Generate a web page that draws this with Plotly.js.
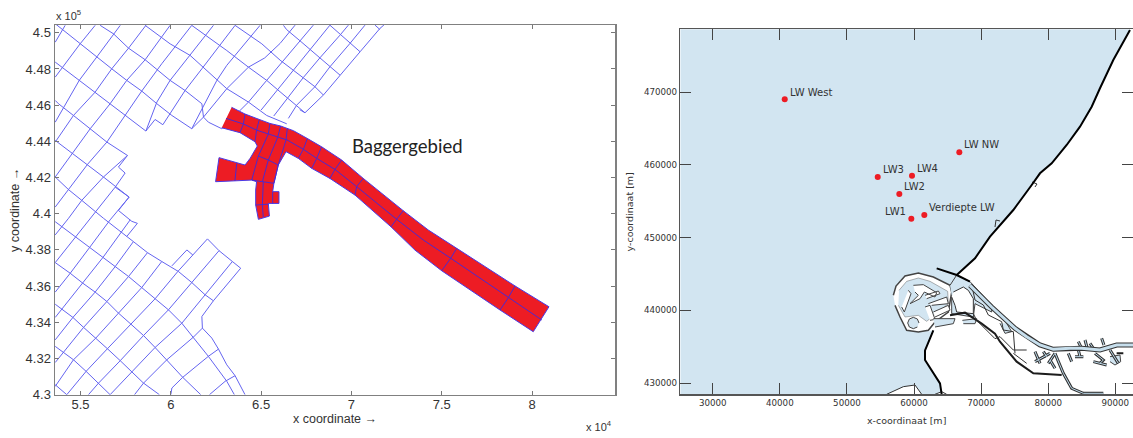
<!DOCTYPE html>
<html><head><meta charset="utf-8">
<script src="https://cdn.plot.ly/plotly-3.0.1.min.js"></script>
<style>html,body{margin:0;padding:0;background:#fff}#c{width:1133px;height:438px}</style>
</head><body><div id="c"></div>
<script>
// ---------- left panel: model grid (x in 1e4, y in 1e5) ----------
const gridNorth = [
 [[5.36,4.505],[5.498,4.4939],[5.59,4.4866],[5.673,4.4801],[5.756,4.4737],[5.839,4.4678],[5.923,4.4608],[6.006,4.4543],[6.116,4.447]],
 [[5.36,4.4838],[5.493,4.4737],[5.581,4.4672],[5.664,4.4608],[5.747,4.4543],[5.862,4.4457]],
 [[5.36,4.4626],[5.378,4.4608],[5.461,4.4543],[5.554,4.447],[5.646,4.4396],[5.76,4.4322]],
 [[5.36,4.4405],[5.452,4.4335],[5.539,4.4273],[5.627,4.4203],[5.769,4.4092]],
 [[5.36,4.4203],[5.434,4.4133],[5.507,4.4074],[5.627,4.3975],[5.793,4.3846],[5.871,4.3785],[5.95,4.3736],[6.042,4.3681],[6.116,4.362],[6.19,4.3552],[6.236,4.3519]],
 [[5.609,4.5041],[5.683,4.4994],[5.766,4.4915],[5.858,4.4851],[5.996,4.4737],[6.079,4.4681],[6.172,4.4608],[6.181,4.4534]],
 [[5.858,4.5041],[5.996,4.4939],[6.107,4.4875],[6.255,4.4737],[6.31,4.4691],[6.43,4.4617],[6.531,4.4543],[6.642,4.4497]],
 [[6.116,4.5041],[6.199,4.4982],[6.31,4.4902],[6.43,4.481],[6.531,4.4737],[6.605,4.4674],[6.651,4.4637],[6.697,4.46],[6.743,4.4558]],
 [[6.356,4.5041],[6.504,4.4939],[6.605,4.4849],[6.678,4.4794],[6.734,4.4753],[6.798,4.4702],[6.845,4.4656]],
 [[6.624,4.5041],[6.641,4.5018],[6.715,4.4956],[6.771,4.4908],[6.826,4.4862],[6.881,4.4812],[6.937,4.4766]],
 [[6.881,4.5042],[6.992,4.4941],[7.048,4.4895]],
 [[7.131,4.5042],[7.158,4.5018]],
 [[5.36,4.4948],[5.415,4.5041]],
 [[5.36,4.4755],[5.498,4.4939],[5.581,4.5041]],
 [[5.36,4.4506],[5.493,4.4737],[5.59,4.4866],[5.683,4.4994],[5.72,4.5041]],
 [[5.36,4.4396],[5.461,4.4543],[5.581,4.4672],[5.673,4.4801],[5.766,4.4915],[5.862,4.5041]],
 [[5.36,4.4203],[5.554,4.447],[5.664,4.4608],[5.756,4.4737],[5.858,4.4851],[5.996,4.5041]],
 [[5.36,4.4037],[5.539,4.4273],[5.646,4.4396],[5.747,4.4543],[5.839,4.4678],[5.95,4.4829],[6.116,4.5041]],
 [[5.434,4.3975],[5.507,4.4074],[5.627,4.4203],[5.76,4.4322]],
 [[5.862,4.4457],[5.923,4.4617],[5.996,4.4737],[6.107,4.4875],[6.236,4.5041]],
 [[5.956,4.4492],[6.079,4.4681],[6.172,4.4801],[6.356,4.5041]],
 [[6.116,4.447],[6.255,4.4737],[6.31,4.482],[6.494,4.5041]],
 [[6.181,4.4534],[6.31,4.4691],[6.43,4.481],[6.52,4.4861],[6.605,4.4941],[6.688,4.5042]],
 [[6.282,4.447],[6.43,4.4617],[6.531,4.4737],[6.619,4.484],[6.715,4.4956],[6.789,4.5042]],
 [[6.5,4.4573],[6.605,4.4702],[6.678,4.4794],[6.771,4.4908],[6.881,4.5042]],
 [[6.57,4.454],[6.605,4.4587],[6.645,4.4637],[6.734,4.4753],[6.826,4.4862],[6.937,4.4987],[6.983,4.5042]],
 [[6.651,4.4527],[6.697,4.46],[6.798,4.4702],[6.881,4.4812],[6.992,4.4941],[7.075,4.5042]],
 [[7.18,4.5043],[7.158,4.5024],[7.048,4.4895],[6.937,4.4766],[6.845,4.4656],[6.743,4.4558],[6.714,4.4575]],
 [[5.76,4.4322],[5.71,4.4258],[5.747,4.4225],[5.692,4.4147],[5.769,4.4092],[5.71,4.4018],[5.784,4.3958],[5.815,4.3947],[5.756,4.3874]],
 [[5.862,4.4457],[5.913,4.4521],[5.956,4.4492]],
 [[6.116,4.447],[6.181,4.4534],[6.208,4.4506],[6.282,4.447]]
];
const gridSouth = [
 [[5.36,4.3956],[5.55,4.3813],[5.624,4.3758],[5.692,4.3708],[5.766,4.3653],[5.839,4.3592],[5.913,4.353],[5.987,4.3469],[6.061,4.3395],[6.125,4.3318],[6.208,4.3212],[6.31,4.3074],[6.352,4.3]],
 [[5.36,4.373],[5.443,4.3671],[5.513,4.3616],[5.581,4.3567],[5.646,4.3515],[5.71,4.3451],[5.779,4.339],[5.849,4.3327],[5.913,4.3261],[5.978,4.3193],[6.066,4.3096],[6.166,4.3]],
 [[5.36,4.35],[5.458,4.3427],[5.517,4.3372],[5.585,4.3313],[5.649,4.3254],[5.72,4.3188],[5.784,4.3125],[5.849,4.3064],[5.937,4.3]],
 [[5.36,4.3267],[5.461,4.3193],[5.531,4.3129],[5.6,4.3064],[5.664,4.3]],
 [[5.36,4.3055],[5.424,4.3]],
 [[5.36,4.3883],[5.434,4.3975]],
 [[5.36,4.373],[5.554,4.3975],[5.692,4.4147]],
 [[5.36,4.3567],[5.443,4.3671],[5.55,4.3813],[5.664,4.3966],[5.769,4.4092]],
 [[5.36,4.3427],[5.513,4.3616],[5.624,4.3758],[5.775,4.3966]],
 [[5.36,4.3303],[5.458,4.3427],[5.581,4.3567],[5.692,4.3708],[5.793,4.3846]],
 [[5.36,4.3178],[5.517,4.3372],[5.646,4.3515],[5.766,4.3653],[5.871,4.3785]],
 [[5.36,4.3046],[5.461,4.3193],[5.585,4.3313],[5.71,4.3451],[5.839,4.3592],[5.95,4.3736]],
 [[5.424,4.3],[5.531,4.3129],[5.649,4.3254],[5.779,4.339],[5.913,4.353],[6.039,4.3681],[6.122,4.3772],[6.203,4.3861]],
 [[5.544,4.3],[5.6,4.3064],[5.72,4.3188],[5.849,4.3327],[5.987,4.3469],[6.116,4.362],[6.267,4.3796]],
 [[5.664,4.3],[5.784,4.3125],[5.913,4.3261],[6.061,4.3395],[6.19,4.3552],[6.341,4.3736]],
 [[5.799,4.3],[5.849,4.3064],[5.978,4.3193],[6.125,4.3318],[6.175,4.3368]],
 [[6.0,4.3],[6.006,4.3037],[6.066,4.3096],[6.208,4.3212],[6.264,4.3252]],
 [[6.214,4.3],[6.301,4.3074],[6.356,4.3105]],
 [[6.006,4.3712],[6.089,4.38],[6.122,4.3772]],
 [[6.203,4.3861],[6.267,4.3796],[6.341,4.3736],[6.387,4.3699],[6.236,4.3519],[6.172,4.3432],[6.175,4.3368],[6.227,4.3313],[6.264,4.3252],[6.31,4.3165],[6.356,4.3105],[6.384,4.3055],[6.411,4.3]]
];
const dredgeOutline = [[6.337,4.4588],[6.411,4.4551],[6.49,4.4521],[6.549,4.4499],[6.608,4.4485],[6.679,4.4459],[6.756,4.4416],[6.835,4.437],[6.946,4.4297],[7.066,4.4195],[7.287,4.4017],[7.426,4.391],[7.583,4.3809],[7.906,4.3601],[8.094,4.3486],
 [8.007,4.3348],[7.823,4.3468],[7.5,4.3685],[7.352,4.3799],[7.219,4.3928],[7.02,4.4103],[6.881,4.4195],[6.78,4.4251],[6.706,4.4306],[6.638,4.4343],[6.595,4.4269],[6.571,4.4168],[6.564,4.4122],[6.599,4.4122],[6.599,4.4057],[6.54,4.4057],[6.546,4.3987],[6.485,4.3969],[6.47,4.4048],[6.47,4.4131],[6.475,4.4177],[6.448,4.4186],[6.355,4.4181],[6.248,4.4177],[6.267,4.431],[6.411,4.4269],[6.439,4.4306],[6.479,4.4374],[6.466,4.4398],[6.383,4.4448],[6.282,4.4475]];
const dredgeCells = [
 [[6.306,4.4527],[6.402,4.4496],[6.475,4.4462],[6.54,4.444],[6.595,4.4422],[6.645,4.4407],[6.734,4.4356],[6.808,4.4306],[6.909,4.4245],[7.029,4.415],[7.251,4.3969],[7.398,4.3855],[7.55,4.3754],[7.869,4.3536],[8.054,4.3413]],
 [[6.411,4.4551],[6.402,4.4496],[6.383,4.4448]],
 [[6.49,4.4521],[6.475,4.4462],[6.466,4.4398]],
 [[6.549,4.4499],[6.54,4.444],[6.485,4.4319],[6.448,4.4186]],
 [[6.608,4.4485],[6.592,4.4422],[6.54,4.4297],[6.507,4.4177]],
 [[6.645,4.4472],[6.638,4.4407],[6.595,4.4269],[6.571,4.4168]],
 [[6.485,4.4319],[6.54,4.4297],[6.595,4.4269]],
 [[6.756,4.4416],[6.734,4.4356],[6.706,4.4306]],
 [[6.835,4.437],[6.808,4.4306],[6.78,4.4251]],
 [[6.946,4.4297],[6.909,4.4245],[6.881,4.4195]],
 [[7.066,4.4195],[7.029,4.415],[7.02,4.4103]],
 [[7.287,4.4017],[7.251,4.3969],[7.219,4.3928]],
 [[7.583,4.3809],[7.55,4.3754],[7.5,4.3685]],
 [[7.906,4.3601],[7.869,4.3536],[7.823,4.3468]],
 [[6.365,4.4278],[6.355,4.4181]],
 [[6.448,4.4186],[6.507,4.4177],[6.571,4.4168]],
 [[6.512,4.4177],[6.507,4.4048],[6.512,4.398]],
 [[6.564,4.4122],[6.564,4.4057]],
 [[6.47,4.4048],[6.54,4.4053]]
];
const xTicksLeft = [5.5,6,6.5,7,7.5,8];
const yTicksLeft = [4.3,4.32,4.34,4.36,4.38,4.4,4.42,4.44,4.46,4.48,4.5];

// ---------- right panel: map in metres ----------
const seaArea = [[25165,478619],[92190,478619],[90998,476461],[89702,474400],[87719,470510],[86483,467980],[84739,465231],[82757,462715],[80521,460200],[78778,458825],[77541,457217],[74798,453781],[71326,450110],[69091,447141],[66363,444846],[65366,443426],[65117,439760],[63130,438385],[62136,437011],[62882,437240],[61640,434491],[61640,433161],[63875,429954],[64124,428447],[25165,428447]];
const coastNorth = [[92190,478523],[90998,476461],[89702,474400],[87719,470510],[86483,467980],[84739,465231],[82757,462715],[80521,460200],[78778,458825],[77541,457217],[74798,453781],[71326,450110],[69091,447141],[66363,444846]];
const coastSouth = [[62882,437240],[61640,434491],[61640,433161],[63875,429954],[64124,428447]];
const breakwater = [[63378,445762],[66363,444846],[68346,443929]];
const portRing = [[56920,442051],[57317,443334],[58659,444709],[60646,445121],[62882,444571],[65366,443426],[65614,442509],[65366,440906],[65117,439760],[63130,438385],[62136,437240],[60646,437011],[58907,437240],[57914,439072],[57168,440677]];
const portBasins = [
 [[57765,442738],[58907,443975],[60646,444434],[62385,443975],[65018,442601],[65117,440906],[61888,438477],[60646,439302],[58659,439072],[57665,440677]]
];
const portPiers = [
 [[59901,443426],[61391,443517],[63378,442418],[63130,441822],[61540,442509],[60894,441593],[59404,440906],[60646,442051],[60149,442509]],
 [[59156,442738],[59553,442280],[58559,439760],[58162,440447]],
 [[61640,442051],[63627,442647],[63875,442280],[61888,441593]],
 [[62136,440906],[64869,441822],[65117,440906],[62633,440677]],
 [[61640,440447],[62385,440677],[63130,438752],[62385,438615]],
 [[62882,439760],[65117,440677],[65366,440015],[63130,439072]]
];
const otherBasins = [
 [[60746,438248],[60498,438799],[59901,439027],[59304,438799],[59056,438248],[59304,437697],[59901,437469],[60498,437697]],
 [[62882,438843],[66111,438843],[65862,438156],[63130,437698]],
 [[67206,438615],[69340,438843],[69092,438156],[67353,438156]],
 [[65366,443426],[66359,444846],[68346,443929],[71576,440677],[71576,439760],[69092,440906],[68843,439072],[65614,439530],[65614,442051]],
 [[72816,438202],[73561,436827],[74555,437056],[73810,438202]],
 [[89210,433620],[90701,433849],[90800,432933],[89956,432474],[89210,432933]]
];
const landIslands = [
 [[65862,442509],[67353,443197],[68098,442738],[68843,441593],[68843,439531],[66359,439760],[66111,440677],[65614,441822]],
 [[55926,428447],[58410,429496],[60149,429725],[61143,428580],[61143,428447]],
 [[63130,428447],[64124,428808],[64868,428447]]
];
const waterway = [[68346,443426],[71576,440447],[75052,437515],[76790,436369],[78778,435224],[80765,434628],[83249,434765],[84988,434765],[87720,434536],[90204,435224],[92640,435224]];
const sideBranches = [
 [[78032,432933],[80268,434078]],[[78032,434307],[78778,432703]],[[79274,434307],[79771,433620]],
 [[81013,434078],[80020,432703]],[[80268,433162],[81013,432016]],[[83000,434078],[83497,432933]],
 [[84491,434536],[84739,433620]],[[83994,433620],[85236,433620]],[[84491,435682],[84987,434765]],
 [[85484,435911],[85832,434765]],[[86230,435453],[86726,434765]],[[87968,436140],[88316,435224]],
 [[86975,434078],[88217,433162],[87720,432703]],[[86726,432933],[88714,432474]],[[89210,434536],[90452,432703]],
 [[81013,434078],[82255,431329],[83497,429267],[85236,428580],[88217,428580]]
];
const thickLand = [
 [[65366,439302],[67601,439668],[70085,438156],[72072,436782],[72816,435682],[75300,432933],[77784,431329],[82007,431099]],
 [[90204,434078],[91198,434078]]
];
const thinLand = [
 [[68595,443471],[69092,441409],[70334,440722],[71079,439347],[73066,438431],[73314,437285],[74805,437056],[75053,434078]],
 [[68843,439531],[69340,438615],[72072,436095],[72816,436369],[74803,434536],[76790,434536]],
 [[74803,434078],[76790,432703]],
 [[72071,451444],[72220,452406],[72816,452269]],
 [[77585,457630],[78330,457355],[78032,456943]]
];
const stationNames = ["LW West","LW3","LW4","LW2","LW1","Verdiepte LW","LW NW"];
const stationX = [40730,54590,59702,57810,59598,61535,66751];
const stationY = [468997,458317,458496,455980,452585,453094,461715];
const stationLabelSide = ["left","left","left","left","right","left","left"];
const xTicksRight = [30000,40000,50000,60000,70000,80000,90000];
const yTicksRight = [430000,440000,450000,460000,470000];

const flat = (lines,i) => { const o=[]; lines.forEach(l=>{l.forEach(p=>o.push(p[i])); o.push(null);}); return o; };
const lineTrace = (lines,color,width,ax) => ({type:'scatter',mode:'lines',x:flat(lines,0),y:flat(lines,1),xaxis:ax[0],yaxis:ax[1],
  line:{color,width},hoverinfo:'skip',showlegend:false,connectgaps:false});
const fillTrace = (polys,fill,color,width,ax) => ({type:'scatter',mode:'lines',x:flat(polys,0),y:flat(polys,1),xaxis:ax[0],yaxis:ax[1],
  fill:'toself',fillcolor:fill,line:{color,width},hoverinfo:'skip',showlegend:false});
const L=['x','y'], R=['x2','y2'];
const SEA='#D2E5F1', INK='#1c1c1c', MESH='#6464f0';
const data = [
 lineTrace(gridNorth,MESH,1,L),
 lineTrace(gridSouth,MESH,1,L),
 fillTrace([dredgeOutline],'#ED1C24','#4a3ae6',1,L),
 lineTrace(dredgeCells,'#4a2ad0',1,L),
 fillTrace([seaArea],SEA,SEA,0.5,R),
 fillTrace([portRing],'#ffffff','#444',1.5,R),
 fillTrace(portBasins,SEA,'#666',0.5,R),
 fillTrace(portPiers,'#ffffff','#444',1,R),
 fillTrace(otherBasins,SEA,'#444',1,R),
 fillTrace(landIslands,'#ffffff','#333',1,R),
 lineTrace(thickLand,INK,2,R),
 lineTrace(thinLand,'#333',1,R),
 lineTrace(sideBranches,'#333',3,R),
 lineTrace(sideBranches,'#BFDAEA',1,R),
 lineTrace([waterway],'#333',5,R),
 lineTrace([waterway],'#C6DEEC',3,R),
 lineTrace([coastNorth,coastSouth,breakwater],'#000',2,R),
 {type:'scatter',mode:'markers',x:stationX,y:stationY,xaxis:'x2',yaxis:'y2',marker:{color:'#ED1C24',size:6},hoverinfo:'skip',showlegend:false}
];
const W=1133,H=438;
const leftTick = {family:'Liberation Sans',size:13,color:'#333'};
const rightTick = {family:'DejaVu Sans',size:8.7,color:'#333'};
const stationNotes = stationNames.map((n,i)=>({text:n,xref:'x2',yref:'y2',x:stationX[i],y:stationY[i],showarrow:false,
  xanchor:stationLabelSide[i],yanchor:'middle',xshift:stationLabelSide[i]==='left'?3:-3,yshift:7.3,
  font:{family:'DejaVu Sans',size:10,color:'#333'}}));
const layout = {
 width:W,height:H,margin:{l:0,r:0,t:0,b:0},paper_bgcolor:'#fff',plot_bgcolor:'#fff',showlegend:false,
 xaxis:{domain:[55/W,615/W],range:[5.3588,8.4596],tickvals:xTicksLeft,ticktext:xTicksLeft.map(String),ticks:'inside',ticklen:4,tickcolor:'#777',
   showline:true,mirror:'ticks',linecolor:'#808080',linewidth:1.5,showgrid:false,zeroline:false,tickfont:leftTick,ticklabelstandoff:-3,
   title:{text:'x coordinate →',font:{family:'Liberation Sans',size:12.5,color:'#333'},standoff:2},anchor:'y'},
 yaxis:{domain:[1-394.7/H,1-25/H],range:[4.3,4.5043],tickvals:yTicksLeft,ticktext:yTicksLeft.map(String),ticks:'inside',ticklen:4,tickcolor:'#777',
   showline:true,mirror:'ticks',linecolor:'#808080',linewidth:1.5,showgrid:false,zeroline:false,tickfont:leftTick,
   title:{text:'y coordinate →',font:{family:'Liberation Sans',size:12.5,color:'#333'},standoff:3},anchor:'x'},
 xaxis2:{domain:[680.3/W,1],range:[25165,92640],tickvals:xTicksRight,ticktext:xTicksRight.map(String),ticks:'inside',ticklen:11,tickcolor:'#444',
   showline:true,mirror:'ticks',linecolor:'#555',linewidth:1.5,showgrid:false,zeroline:false,tickfont:rightTick,
   title:{text:'x-coordinaat [m]',font:{family:'DejaVu Sans',size:9.5,color:'#333'},standoff:10},anchor:'y2'},
 yaxis2:{domain:[1-394.3/H,1-29.3/H],range:[428447,478619],tickvals:yTicksRight,ticktext:yTicksRight.map(String),ticks:'inside',ticklen:11,tickcolor:'#444',
   showline:true,mirror:'ticks',linecolor:'#555',linewidth:1.5,showgrid:false,zeroline:false,tickfont:rightTick,
   title:{text:'y-coordinaat [m]',font:{family:'DejaVu Sans',size:9.5,color:'#333'},standoff:8},anchor:'x2'},
 annotations:[
  {text:'Baggergebied',xref:'x',yref:'y',x:6.99,y:4.4372,xanchor:'left',yanchor:'middle',showarrow:false,font:{family:'Lato',size:18.5,color:'#222'}},
  {text:'x 10<sup>5</sup>',xref:'paper',yref:'paper',x:54/W,y:1-15/H,xanchor:'left',yanchor:'middle',showarrow:false,font:{family:'Liberation Sans',size:11,color:'#333'}},
  {text:'x 10<sup>4</sup>',xref:'paper',yref:'paper',x:584/W,y:1-426/H,xanchor:'left',yanchor:'middle',showarrow:false,font:{family:'Liberation Sans',size:11,color:'#333'}}
 ].concat(stationNotes)
};
Plotly.newPlot('c',data,layout,{staticPlot:true,displayModeBar:false});
</script></body></html>
